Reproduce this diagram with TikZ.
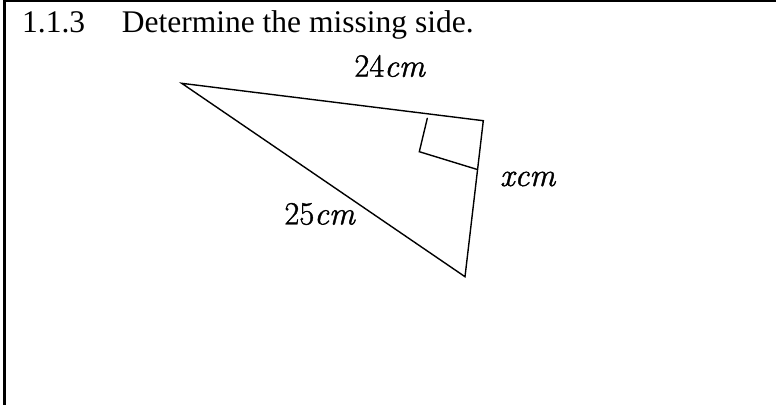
\documentclass[tikz,border=0pt]{standalone}
\usepackage{fontspec}
\setmainfont{Liberation Serif}
\newfontfamily\lmr[FakeBold=1.2]{Latin Modern Roman}
\begin{document}
\begin{tikzpicture}[x=1pt,y=-1pt,
  edge/.style={line width=1.4pt,line join=miter,line cap=round},
  frameline/.style={line width=3pt},
  title/.style={inner sep=0pt,anchor=base west,font=\fontsize{31.5}{38}\selectfont},
  lbl/.style={inner sep=0pt,anchor=center,font=\lmr\fontsize{32.5}{39}\selectfont}]
\useasboundingbox (0,0) rectangle (776,405);
% frame
\coordinate (FL1) at (4.5,0);
\coordinate (FL2) at (4.5,405);
\coordinate (FT1) at (3,1);
\coordinate (FT2) at (776,1);
\draw[frameline] (FL1) -- (FL2);
\draw[line width=2pt] (FT1) -- (FT2);
% title
\node[title] (num) at (22,32) {1.1.3};
\node[title] (txt) at (121.7,32) {Determine the missing side.};
% triangle
\coordinate (A) at (181.7,83.3);
\coordinate (B) at (483.3,120.7);
\coordinate (C) at (465,276.7);
\draw[edge] (A) -- (B) -- (C) -- cycle;
% right angle mark
\coordinate (M1) at (427.3,118.3);
\coordinate (M2) at (419.3,151.7);
\coordinate (M3) at (476.7,169.3);
\draw[edge] (M1) -- (M2) -- (M3);
% labels
\node[lbl] (l24) at (390,66) {24\textit{cm}};
\node[lbl] (l25) at (320,214) {25\textit{cm}};
\node[lbl] (lx) at (528,179) {\textit{xcm}};
\end{tikzpicture}
\end{document}
